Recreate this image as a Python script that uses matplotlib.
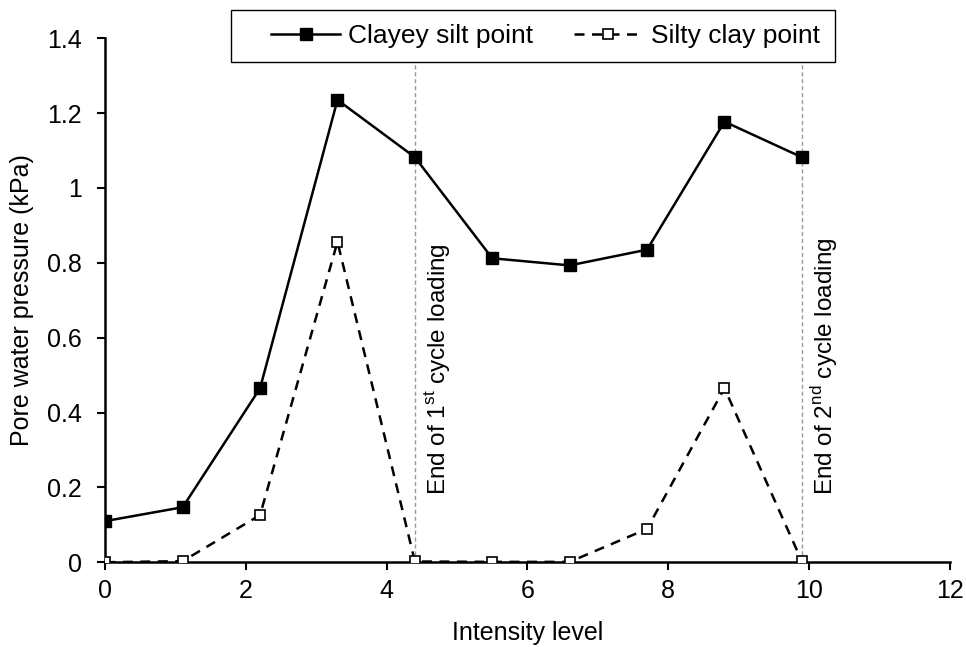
import numpy as np
import matplotlib
matplotlib.use("Agg")
import matplotlib.pyplot as plt
from matplotlib.patches import Rectangle

plt.rcParams["font.family"] = ["Liberation Sans", "DejaVu Sans"]
plt.rcParams["mathtext.fontset"] = "custom"
plt.rcParams["mathtext.rm"] = "Liberation Sans"

# Data
intensity = [0, 1.1, 2.2, 3.3, 4.4, 5.5, 6.6, 7.7, 8.8, 9.9]
clayey_silt = [0.11, 0.147, 0.465, 1.235, 1.082, 0.812, 0.793, 0.835, 1.177, 1.082]
silty_clay = [0.0, 0.003, 0.126, 0.856, 0.002, 0.001, 0.001, 0.089, 0.465, 0.003]
cycle_ends = [4.4, 9.9]
cycle_labels = [r"End of 1$^{\mathrm{st}}$ cycle loading",
                r"End of 2$^{\mathrm{nd}}$ cycle loading"]

fig = plt.figure(figsize=(9.66, 6.47), dpi=100, facecolor="white")
ax = fig.add_axes([0.109, 0.131, 0.874, 0.810])

for xe in cycle_ends:
    ax.axvline(xe, color="#9a9a9a", linestyle=(0, (3, 2)), linewidth=1.0, zorder=1)

ax.plot(intensity, clayey_silt, color="black", linewidth=1.8, marker="s",
        markersize=8, markerfacecolor="black", label="Clayey silt point", zorder=3)
ax.plot(intensity, silty_clay, color="black", linewidth=1.8, linestyle=(0, (4, 3)),
        marker="s", markersize=7.5, markerfacecolor="white", markeredgewidth=1.2,
        label="Silty clay point", zorder=3)

for xe, lab in zip(cycle_ends, cycle_labels):
    ax.text(xe + 0.32, 0.18, lab, rotation=90, ha="center", va="bottom", fontsize=17.5)

ax.set_xlim(0, 12)
ax.set_ylim(0, 1.4)
ax.set_xticks(np.arange(0, 13, 2))
ax.set_yticks(np.arange(0, 1.41, 0.2))
ax.set_yticklabels(["0", "0.2", "0.4", "0.6", "0.8", "1", "1.2", "1.4"])
ax.tick_params(direction="out", length=6, width=1.5, labelsize=18)
ax.tick_params(axis="x", pad=6)
ax.tick_params(axis="y", pad=11)
ax.spines["top"].set_visible(False)
ax.spines["right"].set_visible(False)
ax.spines["left"].set_linewidth(1.8)
ax.spines["bottom"].set_linewidth(1.8)
ax.set_xlabel("Intensity level", fontsize=18, labelpad=13)
ax.set_ylabel("Pore water pressure (kPa)", fontsize=18, labelpad=9)

# legend box drawn separately (wider left padding than matplotlib gives)
box = Rectangle((0.239, 0.904), 0.625, 0.0804, transform=fig.transFigure,
                facecolor="white", edgecolor="black", linewidth=1.0, zorder=4)
fig.add_artist(box)
handles, labels = ax.get_legend_handles_labels()
leg = fig.legend(handles, labels, loc="center", bbox_to_anchor=(0.5647, 0.9444), ncol=2,
                 fontsize=19, frameon=False, handlelength=2.6, handletextpad=0.3,
                 columnspacing=1.55, borderpad=0.0)
leg.set_zorder(5)

plt.savefig("out.png", dpi=100, facecolor="white")
